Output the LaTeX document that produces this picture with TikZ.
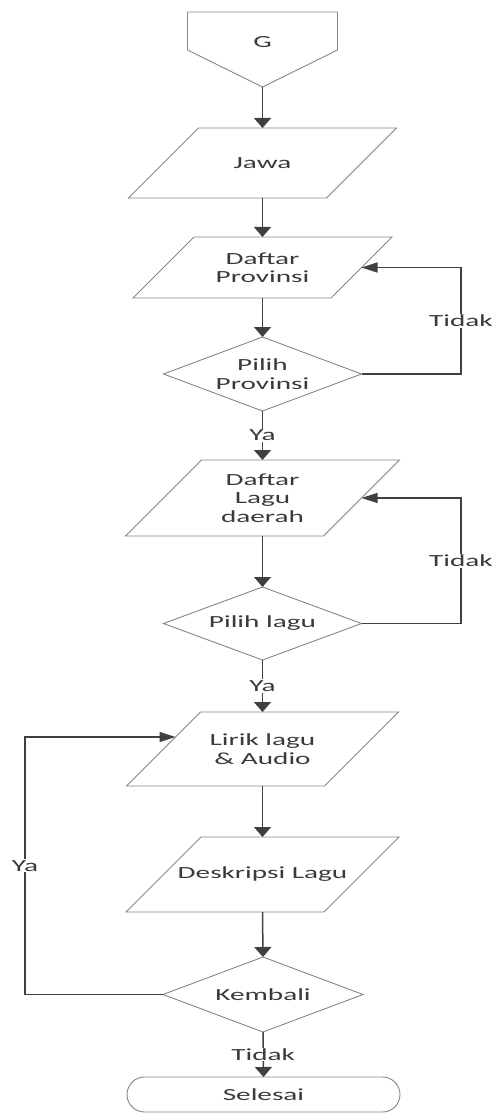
\documentclass[tikz,border=0pt]{standalone}
\usepackage{fontspec}
\setmainfont{Carlito}[FakeStretch=1.72]
\usetikzlibrary{shapes.geometric,shapes.misc,arrows.meta,calc}
\definecolor{lnc}{HTML}{404040}
\definecolor{shc}{HTML}{858585}
\definecolor{txc}{HTML}{3A3A3A}
\newcommand\paradraw[2]{\draw[shp] ([xshift=-#2]#1.south west) -- ([xshift=#2]#1.north west) -- ([xshift=#2]#1.north east) -- ([xshift=-#2]#1.south east) -- cycle;}
\begin{document}
\begin{tikzpicture}[x=1pt,y=-1pt,
 font=\fontsize{17}{18.5}\selectfont, text=txc,
 box/.style={rectangle,minimum width=198pt,minimum height=#1,inner sep=0pt,outer sep=0pt,align=center},
 dec/.style={diamond,draw=shc,line width=0.9pt,minimum width=198pt,minimum height=#1,inner sep=0pt,outer sep=0pt,align=center,aspect=2.7},
 shp/.style={draw=shc,line width=0.9pt},
 varr/.style={draw=lnc,line width=1.5pt,-{Triangle[width=17pt,length=10pt]}},
 harr/.style={draw=lnc,line width=1.3pt,-{Triangle[width=10pt,length=16pt]}},
 lbl/.style={fill=white,inner sep=1pt}]
\useasboundingbox (0,0) rectangle (494,1115);
% off-page connector
\node[rectangle,minimum width=150pt,minimum height=75pt,inner sep=0pt,outer sep=0pt] (g) at (262.5,49.5) {};
\draw[shp] (g.north west) -- ([yshift=-38pt]g.north west) -- (g.south) -- ([yshift=-38pt]g.north east) -- (g.north east) -- cycle;
\node (gt) at (262.5,42) {G};
% boxes
\node[box=70pt] (ja) at (262.5,163) {Jawa};
\paradraw{ja}{35pt}
\node[box=61pt] (dp) at (262.5,267.5) {Daftar\\Provinsi};
\paradraw{dp}{30.5pt}
\node[dec=74pt] (pp) at (262.5,374) {Pilih\\Provinsi};
\node[box=76pt] (dl) at (262.5,498) {Daftar\\Lagu\\daerah};
\paradraw{dl}{38pt}
\node[dec=73pt] (pl) at (262.5,623.5) {Pilih lagu};
\node[box=74pt] (li) at (262.5,749) {Lirik lagu\\\& Audio};
\paradraw{li}{37pt}
\node[box=75pt] (de) at (262.5,874.5) {Deskripsi Lagu};
\paradraw{de}{37.5pt}
\node[dec=75pt,minimum width=200pt] (kb) at (263,994.5) {Kembali};
\node[rounded rectangle,draw=shc,line width=0.9pt,minimum width=273pt,minimum height=35pt,inner sep=0pt,outer sep=0pt] (se) at (263.5,1094.5) {Selesai};
% helper coordinates
\coordinate (rx) at (461,0);
\coordinate (lx) at (25,0);
\coordinate (le) at ([xshift=12pt,yshift=12pt]li.west);
% main flow
\draw[varr] (g.south) -- (ja.north);
\draw[varr] (ja.south) -- (dp.north);
\draw[varr] (dp.south) -- (pp.north);
\draw[varr] (pp.south) -- node[lbl]{Ya} (dl.north);
\draw[varr] (dl.south) -- (pl.north);
\draw[varr] (pl.south) -- node[lbl]{Ya} (li.north);
\draw[varr] (li.south) -- (de.north);
\draw[varr] (de.south) -- (kb.north);
\draw[varr] (kb.south) -- node[lbl]{Tidak} (se.north);
% feedback loops
\draw[harr] (pp.east) -- (pp.east -| rx) -- node[lbl]{Tidak} (rx |- dp.east) -- (dp.east);
\draw[harr] (pl.east) -- (pl.east -| rx) -- node[lbl]{Tidak} (rx |- dl.east) -- (dl.east);
\draw[harr] (kb.west) -- (kb.west -| lx) -- node[lbl]{Ya} (lx |- le) -- (le);
\end{tikzpicture}
\end{document}
